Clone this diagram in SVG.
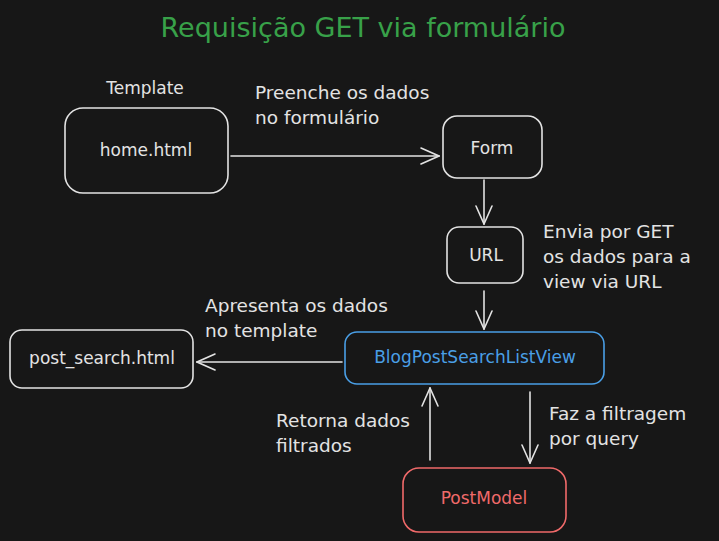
<svg xmlns="http://www.w3.org/2000/svg" width="719" height="541" viewBox="0 0 719 541">
<style>
text{font-family:"DejaVu Sans","Liberation Sans",sans-serif;fill:#e3e3e3;font-size:18.5px}
.c{text-anchor:middle;dominant-baseline:central}
.n{font-size:17px}
.box{fill:none;stroke:#e3e3e3;stroke-width:1.6}
.line{fill:none;stroke:#e3e3e3;stroke-width:1.6;stroke-linecap:round}
</style>
<defs>
<marker id="ah" viewBox="0 0 20 20" refX="19" refY="10" markerWidth="20" markerHeight="20" markerUnits="userSpaceOnUse" orient="auto">
<path d="M1,2 L19,10 L1,18" fill="none" stroke="#e3e3e3" stroke-width="1.6" stroke-linecap="round"/>
</marker>
</defs>
<rect width="719" height="541" fill="#171717"/>
<text x="363" y="27" class="c" style="font-size:27px;fill:#38a149">Requisição GET via formulário</text>
<g id="home">
<text x="145" y="88" class="c n">Template</text>
<rect x="65" y="108" width="163" height="85" rx="18" class="box"/>
<text x="146" y="150" class="c n">home.html</text>
</g>
<g id="form">
<rect x="443" y="116" width="99" height="62" rx="14" class="box"/>
<text x="492" y="148" class="c n">Form</text>
</g>
<g id="url">
<rect x="447" y="227" width="76" height="56" rx="12" class="box"/>
<text x="486" y="255" class="c n">URL</text>
</g>
<g id="view">
<rect x="345" y="332" width="259" height="52" rx="12" class="box" style="stroke:#4a9fe6"/>
<text x="475" y="357" class="c n" style="fill:#4a9fe6">BlogPostSearchListView</text>
</g>
<g id="postsearch">
<rect x="10" y="330" width="183" height="58" rx="12" class="box"/>
<text x="102" y="358" class="c n">post_search.html</text>
</g>
<g id="postmodel">
<rect x="403" y="468" width="163" height="64" rx="16" class="box" style="stroke:#f06a6a"/>
<text x="484" y="498" class="c n" style="fill:#f06a6a">PostModel</text>
</g>
<g id="connectors">
<path d="M231,156 L439,156" class="line" marker-end="url(#ah)"/>
<path d="M484,180 L484,224" class="line" marker-end="url(#ah)"/>
<path d="M484,291 L484,329" class="line" marker-end="url(#ah)"/>
<path d="M342,362 L197,362" class="line" marker-end="url(#ah)"/>
<path d="M430,460 L430,388" class="line" marker-end="url(#ah)"/>
<path d="M530,392 L530,463" class="line" marker-end="url(#ah)"/>
<text x="255" y="99">Preenche os dados</text>
<text x="255" y="124">no formulário</text>
<text x="543" y="238">Envia por GET</text>
<text x="543" y="263">os dados para a</text>
<text x="543" y="288">view via URL</text>
<text x="205" y="312">Apresenta os dados</text>
<text x="205" y="337">no template</text>
<text x="276" y="427">Retorna dados</text>
<text x="276" y="452">filtrados</text>
<text x="549" y="420">Faz a filtragem</text>
<text x="549" y="445">por query</text>
</g>
</svg>
